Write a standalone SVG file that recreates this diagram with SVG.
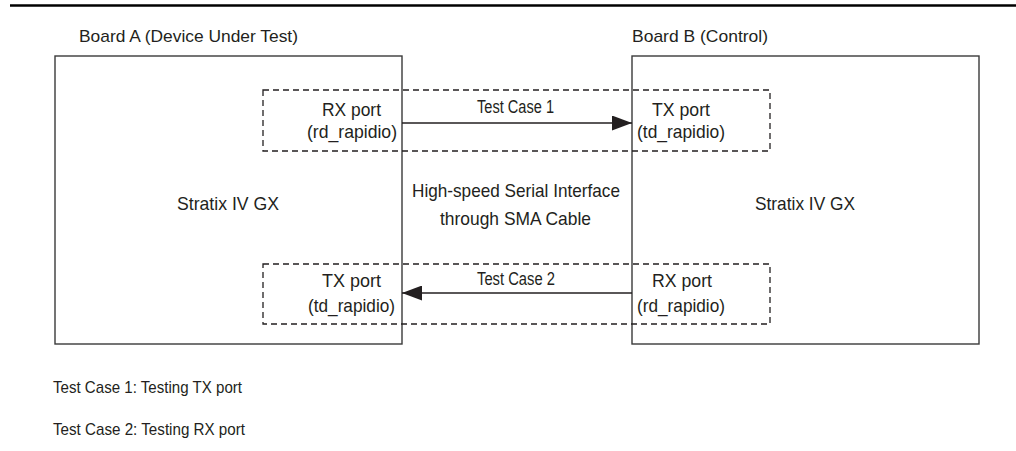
<svg xmlns="http://www.w3.org/2000/svg" width="1016" height="451" viewBox="0 0 1016 451">
  <style>
    text { font-family: "Liberation Sans", Arial, sans-serif; fill: #231f20; }
    .lbl { font-size: 17px; }
    .arr { font-size: 17.5px; }
    .port { font-size: 19px; }
    .main { font-size: 19px; }
    .small { font-size: 17px; }
    .board { fill: #ffffff; stroke: #3a3a3a; stroke-width: 1.4; }
    .dash { fill: none; stroke: #231f20; stroke-width: 1.3; stroke-dasharray: 6 4; }
    .conn { stroke: #231f20; stroke-width: 1.3; fill: none; }
  </style>
  <defs>
    <marker id="ah" viewBox="0 0 20 15" refX="20" refY="7.5" markerWidth="20" markerHeight="15" markerUnits="userSpaceOnUse" orient="auto">
      <path d="M0,0 L20,7.5 L0,15 Z" fill="#231f20"/>
    </marker>
  </defs>
  <rect width="1016" height="451" fill="#ffffff"/>
  <line x1="10" y1="5.5" x2="1016" y2="5.5" stroke="#000000" stroke-width="2.5"/>

  <g id="boardA">
    <rect class="board" x="55" y="56" width="347" height="288"/>
    <text class="lbl" x="79" y="42" textLength="219" lengthAdjust="spacingAndGlyphs">Board A (Device Under Test)</text>
    <text class="main" x="177" y="210" textLength="102" lengthAdjust="spacingAndGlyphs">Stratix IV GX</text>
  </g>
  <g id="boardB">
    <rect class="board" x="632" y="56" width="347" height="288"/>
    <text class="lbl" x="632" y="42" textLength="136" lengthAdjust="spacingAndGlyphs">Board B (Control)</text>
    <text class="main" x="755" y="210" textLength="100" lengthAdjust="spacingAndGlyphs">Stratix IV GX</text>
  </g>

  <g id="link1">
    <rect class="dash" x="263" y="90" width="507" height="61"/>
  </g>
  <g id="link2">
    <rect class="dash" x="263" y="264" width="507" height="60"/>
  </g>

  <g id="portA-rx">
    <text class="port" x="322" y="116" textLength="59" lengthAdjust="spacingAndGlyphs">RX port</text>
    <text class="port" x="307" y="138" textLength="90" lengthAdjust="spacingAndGlyphs">(rd_rapidio)</text>
  </g>
  <g id="portB-tx">
    <text class="port" x="652" y="116" textLength="58" lengthAdjust="spacingAndGlyphs">TX port</text>
    <text class="port" x="637" y="138" textLength="88" lengthAdjust="spacingAndGlyphs">(td_rapidio)</text>
  </g>
  <g id="portA-tx">
    <text class="port" x="322" y="287" textLength="59" lengthAdjust="spacingAndGlyphs">TX port</text>
    <text class="port" x="308" y="312" textLength="87" lengthAdjust="spacingAndGlyphs">(td_rapidio)</text>
  </g>
  <g id="portB-rx">
    <text class="port" x="652" y="287" textLength="60" lengthAdjust="spacingAndGlyphs">RX port</text>
    <text class="port" x="637" y="312" textLength="88" lengthAdjust="spacingAndGlyphs">(rd_rapidio)</text>
  </g>

  <g id="interface">
    <text class="main" x="412" y="197" textLength="208" lengthAdjust="spacingAndGlyphs">High-speed Serial Interface</text>
    <text class="main" x="440" y="225" textLength="151" lengthAdjust="spacingAndGlyphs">through SMA Cable</text>
  </g>

  <g id="connectors">
    <line class="conn" x1="402" y1="123" x2="632" y2="123" marker-end="url(#ah)"/>
    <text class="arr" x="477" y="113" textLength="77" lengthAdjust="spacingAndGlyphs">Test Case 1</text>
    <line class="conn" x1="632" y1="293" x2="402" y2="293" marker-end="url(#ah)"/>
    <text class="arr" x="477" y="285" textLength="78" lengthAdjust="spacingAndGlyphs">Test Case 2</text>
  </g>

  <g id="notes">
    <text class="small" x="53" y="393" textLength="189" lengthAdjust="spacingAndGlyphs">Test Case 1: Testing TX port</text>
    <text class="small" x="53" y="435" textLength="192" lengthAdjust="spacingAndGlyphs">Test Case 2: Testing RX port</text>
  </g>
</svg>
